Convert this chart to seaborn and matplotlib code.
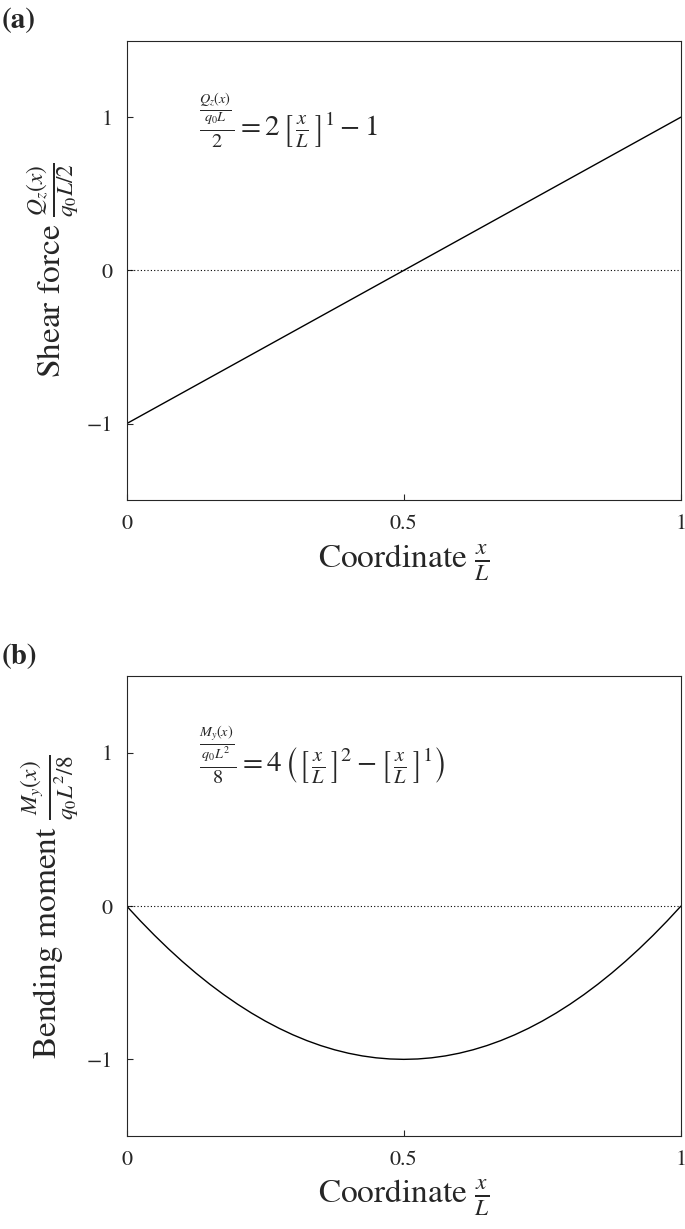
import matplotlib
matplotlib.use("Agg")
import matplotlib.pyplot as plt
import seaborn as sns
import pandas as pd

sns.set_style("ticks")
plt.rcParams['font.family'] = ['STIXGeneral', 'Liberation Serif', 'DejaVu Serif']
plt.rcParams['mathtext.fontset'] = 'stix'

shear_x = [0.0, 1.0]
shear_y = [-1.0, 1.0]
moment_x = [0.0, 0.025, 0.05, 0.075, 0.1, 0.125, 0.15, 0.175, 0.2, 0.225, 0.25, 0.275,
            0.3, 0.325, 0.35, 0.375, 0.4, 0.425, 0.45, 0.475, 0.5,
            0.525, 0.55, 0.575, 0.6, 0.625, 0.65, 0.675, 0.7, 0.725, 0.75,
            0.775, 0.8, 0.825, 0.85, 0.875, 0.9, 0.925, 0.95, 0.975, 1.0]
moment_y = [0.0, -0.0975, -0.19, -0.2775, -0.36, -0.4375, -0.51, -0.5775, -0.64, -0.6975,
            -0.75, -0.7975, -0.84, -0.8775, -0.91, -0.9375, -0.96, -0.9775, -0.99, -0.9975, -1.0,
            -0.9975, -0.99, -0.9775, -0.96, -0.9375, -0.91, -0.8775, -0.84, -0.7975, -0.75,
            -0.6975, -0.64, -0.5775, -0.51, -0.4375, -0.36, -0.2775, -0.19, -0.0975, 0.0]
xticks = [0, 0.5, 1]
xticklabels = ["0", "0.5", "1"]
yticks = [-1, 0, 1]
yticklabels = ["\u22121", "0", "1"]

fig = plt.figure(figsize=(6.85, 12.29), dpi=100)
axa = fig.add_axes([0.185, 0.593, 0.809, 0.374])
axb = fig.add_axes([0.185, 0.0757, 0.809, 0.374])

panels = [
    (axa, shear_x, shear_y, r"Shear force $\frac{Q_z(x)}{q_0L/2}$",
     r"$\frac{\frac{Q_z(x)}{q_0L}}{2} = 2\,\left[\,\frac{x}{L}\,\right]^1 - 1$", "(a)", 0.983),
    (axb, moment_x, moment_y, r"Bending moment $\frac{M_y(x)}{q_0L^2/8}$",
     r"$\frac{\frac{M_y(x)}{q_0L^2}}{8} = 4\,\left(\left[\,\frac{x}{L}\,\right]^2 - \left[\,\frac{x}{L}\,\right]^1\right)$", "(b)", 0.465),
]
for ax, xs, ys, ylab, formula, tag, ty in panels:
    df = pd.DataFrame({"x": xs, "y": ys})
    sns.lineplot(data=df, x="x", y="y", ax=ax, color="black", linewidth=1.0)
    ax.axhline(0, color="black", linestyle=(0, (1, 2)), linewidth=0.8)
    ax.set_xlim(0, 1)
    ax.set_ylim(-1.5, 1.5)
    ax.set_xticks(xticks)
    ax.set_xticklabels(xticklabels)
    ax.set_yticks(yticks)
    ax.set_yticklabels(yticklabels)
    ax.tick_params(direction="in", labelsize=16, length=4, pad=10)
    ax.set_xlabel(r"Coordinate $\frac{x}{L}$", fontsize=24, labelpad=6)
    ax.set_ylabel(ylab, fontsize=24, labelpad=4)
    for s in ax.spines.values():
        s.set_linewidth(0.8)
    ax.text(0.13, 0.98, formula, fontsize=21, va="center", ha="left")
    fig.text(0.003, ty, tag, fontsize=21, fontweight="bold", ha="left", va="center")

fig.savefig("out.png", dpi=100)
